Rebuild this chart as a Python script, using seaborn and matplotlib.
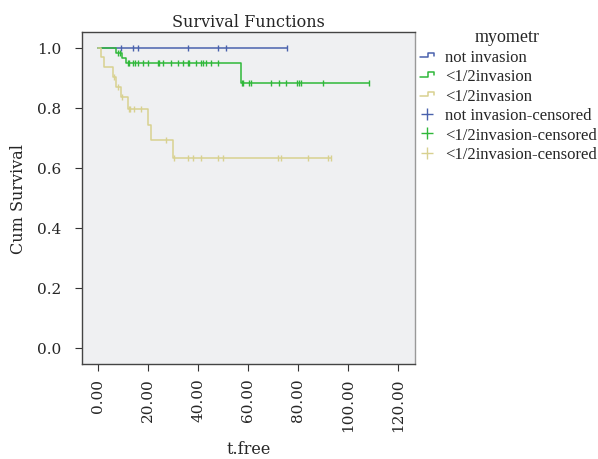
import numpy as np
import pandas as pd
import matplotlib
matplotlib.use('Agg')
import matplotlib.pyplot as plt
import seaborn as sns
from matplotlib.lines import Line2D
from matplotlib.legend_handler import HandlerBase

groups = ['not invasion', '<1/2invasion', '<1/2invasion ']
labels = ['not invasion', '<1/2invasion', '<1/2invasion']
colors = ['#4a62ad', '#2fb83a', '#d8d190']

# step points (time, cumulative survival)
blue_t = [0, 75.4]
blue_s = [1.0, 1.0]
green_t = [0, 7.1, 9.7, 11.0, 57.1, 108.4]
green_s = [1.0, 0.982, 0.965, 0.948, 0.883, 0.883]
tan_t = [0, 1.3, 2.3, 6.0, 7.3, 9.1, 12.0, 20.0, 21.0, 30.0, 93.0]
tan_s = [1.0, 0.969, 0.936, 0.902, 0.869, 0.836, 0.797, 0.744, 0.692, 0.633, 0.633]

# censored times
blue_c = [9.1, 13.8, 16.0, 36.0, 48.0, 51.0, 75.4]
green_c = [7.8, 8.6, 11.8, 12.3, 14.0, 14.8, 16.0, 18.0, 20.0, 23.8, 24.3, 26.0,
           29.1, 32.0, 34.0, 36.0, 36.4, 39.1, 41.1, 42.0, 43.0, 45.1, 48.0,
           57.4, 58.0, 60.3, 61.0, 69.1, 72.2, 75.1, 79.4, 80.3, 81.0, 90.0, 108.4]
tan_c = [6.2, 8.0, 9.4, 12.4, 12.8, 14.3, 17.1, 27.1, 30.4, 36.0, 38.0, 41.1,
         48.0, 50.0, 72.0, 73.0, 84.0, 92.0, 93.0]

steps = [(blue_t, blue_s), (green_t, green_s), (tan_t, tan_s)]
cens = [blue_c, green_c, tan_c]

sns.set_style('white')
plt.rcParams['font.family'] = ['DejaVu Serif']

fig = plt.figure(figsize=(5.98, 4.60), dpi=100)
ax = fig.add_axes([0.137, 0.207, 0.557, 0.722])
ax.set_facecolor('#eff0f2')

for (t, s), c, col, g in zip(steps, cens, colors, groups):
    line_df = pd.DataFrame({'time': t, 'surv': s})
    sns.lineplot(data=line_df, x='time', y='surv', drawstyle='steps-post',
                 estimator=None, color=col, linewidth=1.1, ax=ax)
    idx = np.searchsorted(t, c, side='right') - 1
    cdf = pd.DataFrame({'time': c, 'surv': np.array(s)[idx]})
    sns.scatterplot(data=cdf, x='time', y='surv', marker='|', s=22,
                    color=col, linewidth=1.0, ax=ax, zorder=3)


class StepHandler(HandlerBase):
    def create_artists(self, legend, orig, xd, yd, width, height, fontsize, trans):
        x0 = xd + width * 0.1
        x1 = xd + width * 0.9
        ym = yd + height * 0.3
        yt = yd + height * 0.7
        xs = [x0, x0 + (x1 - x0) * 0.6, x0 + (x1 - x0) * 0.6, x1, x1]
        ys = [ym, ym, yt, yt, ym + (yt - ym) * 0.4]
        ln = Line2D(xs, ys, color=orig.get_color(), linewidth=1.1, transform=trans)
        return [ln]


handles = [Line2D([], [], color=col) for col in colors]
handles += [Line2D([], [], color=col, marker='+', linestyle='None',
                   markersize=9, markeredgewidth=1.0) for col in colors]
leg_labels = labels + [l + '-censored' for l in labels]
hmap = {h: StepHandler() for h in handles[:3]}
leg = ax.legend(handles, leg_labels, title='myometr', handler_map=hmap,
                loc='upper left', bbox_to_anchor=(0.978, 1.04), frameon=False,
                prop={'family': 'Liberation Serif', 'size': 12},
                title_fontproperties={'family': 'Liberation Serif', 'size': 13},
                handlelength=1.1, handletextpad=0.55, labelspacing=0.21,
                borderaxespad=0.2)

ax.set_xlim(-6.5, 126.7)
ax.set_ylim(-0.053, 1.054)
ax.set_xticks([0, 20, 40, 60, 80, 100, 120])
ax.set_xticklabels(['%.2f' % v for v in [0, 20, 40, 60, 80, 100, 120]], rotation=90)
ax.set_yticks([0.0, 0.2, 0.4, 0.6, 0.8, 1.0])
ax.set_yticklabels(['%.1f' % v for v in [0.0, 0.2, 0.4, 0.6, 0.8, 1.0]])
ax.tick_params(axis='both', labelsize=11, length=5, width=0.8, direction='out',
               bottom=True, left=True, color='#333333', pad=5)
ax.tick_params(axis='y', pad=10)
for sp in ax.spines.values():
    sp.set_color('#444444')
    sp.set_linewidth(1.0)
ax.spines['right'].set_color('#999999')

ax.set_title('Survival Functions', fontsize=11.5, pad=4)
ax.set_xlabel('t.free', fontsize=11.5, labelpad=6)
ax.set_ylabel('Cum Survival', fontsize=11.5, labelpad=7)

fig.savefig('out.png', dpi=100)
